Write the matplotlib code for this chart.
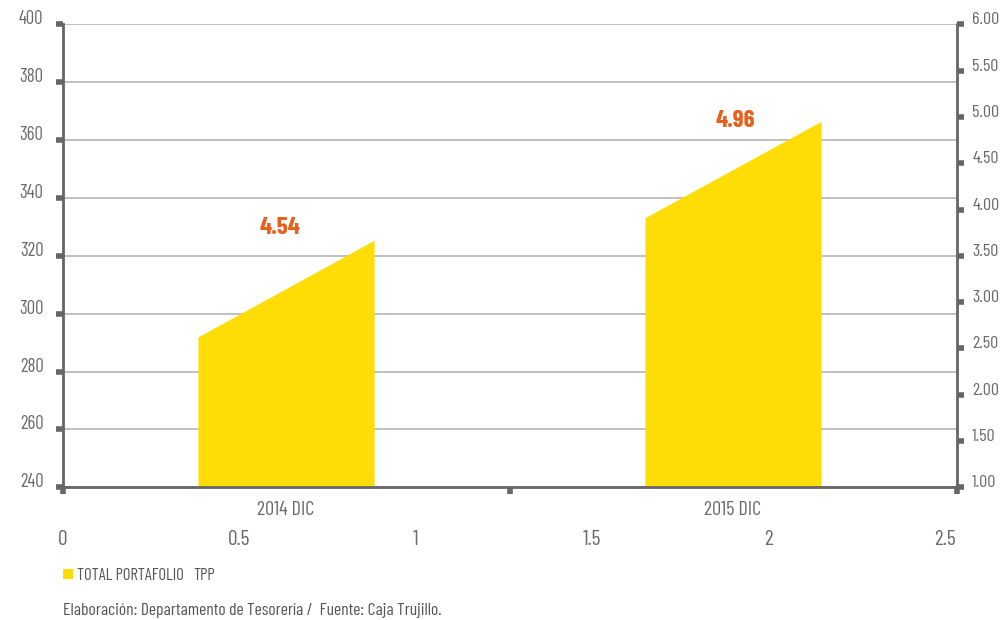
import matplotlib
matplotlib.use("Agg")
import matplotlib.pyplot as plt
from matplotlib.patches import Patch
from matplotlib.lines import Line2D
import numpy as np

plt.rcParams['font.family'] = ['Barlow Condensed', 'Roboto Condensed',
                               'Sofia Sans Condensed', 'DejaVu Sans']

# datos
categorias = ['2014 DIC', '2015 DIC']
portafolio_ini = [291.8, 333.0]   # altura del borde izquierdo de cada barra
portafolio_fin = [325.2, 366.3]   # altura del borde derecho de cada barra
tpp = [4.54, 4.96]

y_izq_ticks = list(range(240, 401, 20))
y_der_ticks = np.arange(1.0, 6.01, 0.5)
x_num_ticks = [0, 0.5, 1, 1.5, 2, 2.5]

AMARILLO = '#FEDC06'
NARANJA = '#E8601C'
GRIS = '#666666'
GRIS_TXT = '#6a6a6a'

fig = plt.figure(figsize=(10.02, 6.2), dpi=100)
ax = fig.add_axes([0.0629, 0.214, 0.8922, 0.7468])

ancho = 0.394
x = np.arange(len(categorias))
for xi, ini, fin in zip(x, portafolio_ini, portafolio_fin):
    xs = [xi - ancho / 2, xi - ancho / 2, xi + ancho / 2, xi + ancho / 2]
    ys = [240, ini, fin, 240]
    ax.fill(xs, ys, color=AMARILLO, lw=0, zorder=2)

ax.set_xlim(-0.5, 1.5)
ax.set_ylim(240, 400)
ax.set_yticks(y_izq_ticks)
ax.set_xticks([-0.5, 0.5, 1.5])
ax.set_xticklabels([])
ax.yaxis.grid(True, color='#c0c0c0', lw=1.4, zorder=0)
ax.set_axisbelow(True)
for s in ['top', 'right']:
    ax.spines[s].set_visible(False)
for s in ['left', 'bottom']:
    ax.spines[s].set_color(GRIS)
    ax.spines[s].set_linewidth(2)
ax.tick_params(axis='y', length=5, width=4, color=GRIS, pad=9,
               labelsize=13.5, labelcolor=GRIS_TXT)
ax.tick_params(axis='x', length=5, width=4, color=GRIS)
plt.setp(ax.get_yticklabels(), va='baseline')

# nombres de categoria
for xi, cat in zip(x, categorias):
    ax.annotate(cat, (xi, 240), xytext=(-1, -16), textcoords='offset points',
                ha='center', va='center', fontsize=14.5, color=GRIS_TXT,
                annotation_clip=False)

# etiquetas TPP
desplaz = [(-4.5, 9.3), (1, 0.5)]
for xi, fin, v, d in zip(x, portafolio_fin, tpp, desplaz):
    ax.annotate(f'{v:.2f}', (xi, fin), xytext=d,
                textcoords='offset points', ha='center', va='center',
                fontsize=18, fontweight='bold', color=NARANJA)

# eje derecho (TPP)
ax2 = ax.twinx()
ax2.set_ylim(1, 6)
ax2.set_yticks(y_der_ticks)
ax2.set_yticklabels([f'{t:.2f}' for t in y_der_ticks])
for s in ['top', 'left', 'bottom']:
    ax2.spines[s].set_visible(False)
ax2.spines['right'].set_color(GRIS)
ax2.spines['right'].set_linewidth(2)
ax2.tick_params(axis='y', length=5, width=4, color=GRIS, pad=6,
                labelsize=13, labelcolor=GRIS_TXT)
plt.setp(ax2.get_yticklabels(), va='baseline')

# eje numerico inferior
ax3 = ax.twiny()
ax3.set_xlim(0, 2.5 * 894 / 882)
ax3.set_xticks(x_num_ticks)
ax3.set_xticklabels([f'{t:g}' for t in x_num_ticks])
ax3.xaxis.set_ticks_position('bottom')
ax3.xaxis.set_label_position('bottom')
for s in ax3.spines.values():
    s.set_visible(False)
ax3.tick_params(axis='x', length=0, pad=31, labelsize=15.5, labelcolor=GRIS_TXT)

# leyenda
handles = [Patch(facecolor=AMARILLO, edgecolor='none'),
           Line2D([], [], linestyle='none')]
fig.legend(handles, ['TOTAL PORTAFOLIO', 'TPP'], loc='center left',
           bbox_to_anchor=(0.048, 0.072), ncol=2, frameon=False,
           fontsize=12, labelcolor='#555555', handlelength=0.6,
           handleheight=0.6, handletextpad=0.25, columnspacing=-0.3)

fig.text(0.0629, 0.016, 'Elaboración: Departamento de Tesorería /  Fuente: Caja Trujillo.',
         fontsize=12.6, color='#555555', ha='left', va='center')

fig.savefig('out.png', dpi=100)
